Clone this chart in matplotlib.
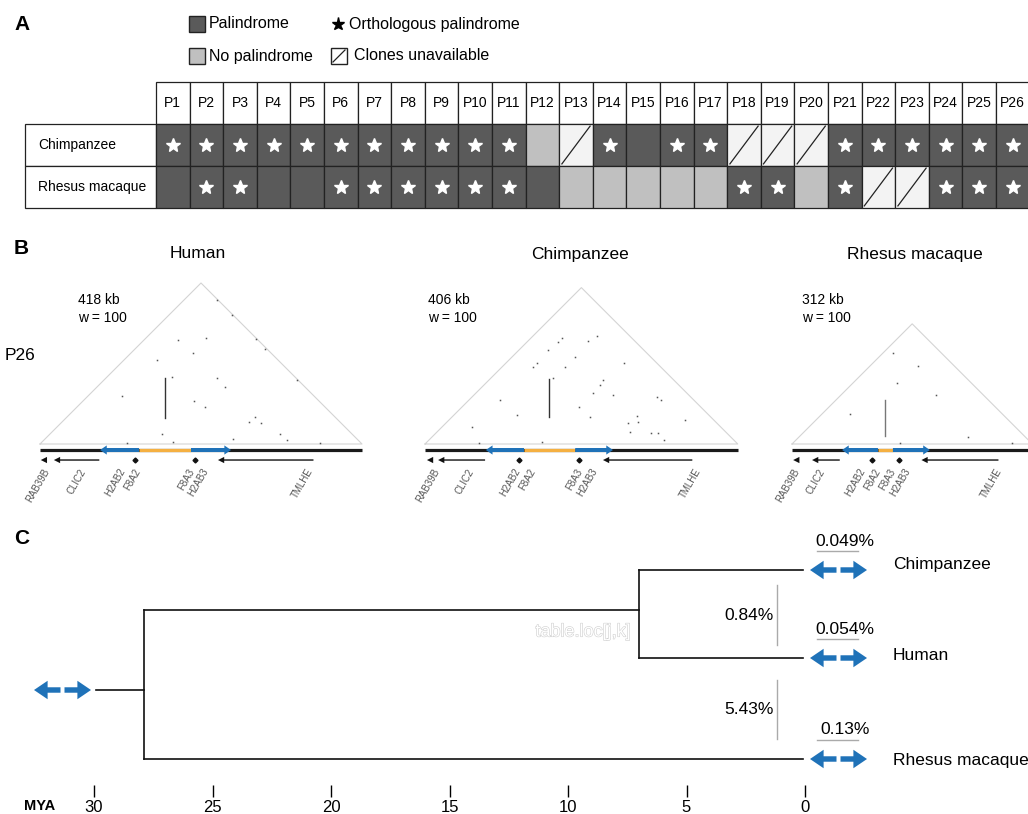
import matplotlib
matplotlib.use('Agg')
import matplotlib.pyplot as plt
from matplotlib.patches import Rectangle
import matplotlib.patheffects as pe

plt.rcParams['font.family'] = ['Liberation Sans', 'DejaVu Sans']

# ---------------- data ----------------
palindromes = ['P1', 'P2', 'P3', 'P4', 'P5', 'P6', 'P7', 'P8', 'P9', 'P10', 'P11', 'P12', 'P13',
               'P14', 'P15', 'P16', 'P17', 'P18', 'P19', 'P20', 'P21', 'P22', 'P23', 'P24', 'P25', 'P26']
table_species = ['Chimpanzee', 'Rhesus macaque']
# S = orthologous palindrome, D = palindrome, N = no palindrome, U = clones unavailable
chimp_status = list("SSSSSSSSSSSNUSDSSUUUSSSSSS")
rhesus_status = list("DSSDDSSSSSSDNNNNNSSNSUUSSS")

dot_species = ['Human', 'Chimpanzee', 'Rhesus macaque']
region_kb = [418, 406, 312]
window = [100, 100, 100]
left_arm_kb = [(128.5, 78), (128.5, 79), (111.6, 65)]       # (start, arrow tip)
spacer_kb = [(128.5, 196), (128.5, 195), (111.6, 131)]
right_arm_kb = [(196, 248), (195, 244), (131, 179)]          # (start, arrow tip)
arm_arm_kb = [(162, 34, 86), (161.6, 35, 84), (121, 10, 57)]  # (position, h0, h1)

gene_names = ['RAB39B', 'CLIC2', 'H2AB2', 'F8A2', 'F8A3', 'H2AB3', 'TMLHE']
gene_label_kb = [[10, 56, 108, 127, 197, 216, 351],
                 [16, 61, 121, 140, 201, 221, 355],
                 [6.5, 40, 92, 112, 131, 151, 270]]
gene_arrows_kb = [[(8, 1), (77, 18), (355, 231)],
                  [(9, 2.5), (78, 17), (347, 231)],
                  [(6.5, 1.5), (62, 26), (268, 168)]]
gene_marks_kb = [[123, 201], [122, 200], [104, 139]]

dots_human = [(179, 135), (216, 138), (230, 187), (249, 168), (281, 136), (292, 123), (152, 109),
              (171, 87), (199, 118), (230, 86), (240, 74), (334, 83), (106, 62), (200, 56),
              (214, 48), (279, 35), (271, 29), (287, 27), (158, 13), (173, 3), (251, 6),
              (312, 13), (321, 5), (364, 1), (113, 1)]
dots_chimp = [(178, 138), (173, 132), (212, 134), (223, 140), (160, 122), (145, 105), (140, 100),
              (182, 100), (195, 113), (258, 105), (166, 86), (231, 83), (227, 77), (218, 66),
              (244, 64), (301, 61), (307, 57), (97, 57), (200, 48), (119, 38), (214, 35),
              (275, 36), (264, 27), (277, 29), (338, 31), (61, 22), (266, 16), (294, 14),
              (302, 14), (310, 5), (152, 3), (70, 1)]
dots_rhesus = [(131, 118), (164, 101), (136, 79), (187, 64), (75, 39), (229, 9), (140, 1), (286, 1)]
dots_all = [dots_human, dots_chimp, dots_rhesus]

tree_species = ['Chimpanzee', 'Human', 'Rhesus macaque']
split_hc_mya = 7.0
split_root_mya = 27.9
root_stem_mya = 29.9
within_div = ['0.049%', '0.054%', '0.13%']
between_div = ['0.84%', '5.43%']
mya_ticks = [30, 25, 20, 15, 10, 5, 0]

# ---------------- style ----------------
W, H = 1028, 814
DARK, LIGHT, UNAV = '#5a5a5a', '#c0c0c0', '#f3f3f3'
BLUE, ORANGE = '#1f72b8', '#f5b041'

fig = plt.figure(figsize=(W / 100, H / 100), dpi=100)


def add_ax(x0, y0, x1, y1, z=1):
    a = fig.add_axes([x0 / W, 1 - y1 / H, (x1 - x0) / W, (y1 - y0) / H])
    a.set_zorder(z)
    a.patch.set_alpha(0)
    return a


lay = add_ax(0, 0, W, H, z=0)
lay.set_xlim(0, W)
lay.set_ylim(H, 0)
lay.axis('off')

# panel letters
for lab, y in [('A', 24), ('B', 248), ('C', 538)]:
    lay.text(14, y, lab, fontsize=15, fontweight='bold', ha='left', va='center')

# ---------------- Panel A legend ----------------
lay.add_patch(Rectangle((189, 16), 16, 16, fc=DARK, ec='#222', lw=1))
lay.add_patch(Rectangle((189, 48), 16, 16, fc=LIGHT, ec='#222', lw=1))
lay.add_patch(Rectangle((331, 48), 16, 16, fc='white', ec='#222', lw=1))
lay.plot([333, 345], [62, 50], color='#222', lw=0.9)
lay.plot([338], [24], marker='*', ms=9.5, color='black', ls='none')
lay.text(209, 24, 'Palindrome', fontsize=11.5, va='center')
lay.text(209, 56, 'No palindrome', fontsize=11.5, va='center')
lay.text(349, 24, 'Orthologous palindrome', fontsize=11.5, va='center')
lay.text(354, 56, 'Clones unavailable', fontsize=11.5, va='center')

# ---------------- Panel A table ----------------
cw = 33.6
ax_a = add_ax(25, 82, 25 + cw * (26 + 131 / cw), 208)
lab_w = 131 / cw
ax_a.set_xlim(-lab_w, 26)
ax_a.set_ylim(0, 3)
ax_a.axis('off')
EC, LW = '#222222', 0.9
for i, p in enumerate(palindromes):
    ax_a.add_patch(Rectangle((i, 2), 1, 1, fc='white', ec=EC, lw=LW, clip_on=False))
    ax_a.text(i + 0.5, 2.5, p, ha='center', va='center', fontsize=10)
for r, (name, stat) in enumerate(zip(table_species, [chimp_status, rhesus_status])):
    y = 1 - r
    ax_a.add_patch(Rectangle((-lab_w, y), lab_w, 1, fc='white', ec=EC, lw=LW, clip_on=False))
    ax_a.text(-lab_w + 0.4, y + 0.5, name, ha='left', va='center', fontsize=10)
    for i, s in enumerate(stat):
        fc = {'S': DARK, 'D': DARK, 'N': LIGHT, 'U': UNAV}[s]
        ax_a.add_patch(Rectangle((i, y), 1, 1, fc=fc, ec=EC, lw=LW, clip_on=False))
        if s == 'S':
            ax_a.plot(i + 0.5, y + 0.5, marker='*', ms=10, color='white', ls='none')
        if s == 'U':
            ax_a.plot([i + 0.08, i + 0.92], [y + 0.05, y + 0.95], color=EC, lw=0.9)

# ---------------- Panel B dot plots ----------------
s = 322 / 418.0
x0s = [40, 425, 792]
title_x = [198, 580, 915]
kb_x = [78, 428, 802]
for k in range(3):
    L = region_kb[k]
    x0 = x0s[k]
    ax = add_ax(x0, 444 - 280 * s, x0 + L * s, 444 + 85 * s, z=2)
    ax.set_xlim(0, L)
    ax.set_ylim(-85, 280)
    ax.axis('off')
    ax.plot([0, L / 2, L, 0], [0, L / 2, 0, 0], color='#d4d4d4', lw=0.8, clip_on=False)
    dx = [d[0] for d in dots_all[k]]
    dy = [d[1] for d in dots_all[k]]
    ax.plot(dx, dy, ls='none', marker='s', ms=1.1, color='#555555', mew=0)
    px, h0, h1 = arm_arm_kb[k]
    ax.plot([px, px], [h0, h1], color='#333333' if k < 2 else '#777777', lw=1.0)
    yt = -7.8
    ax.plot([0, L], [yt, yt], color='#1a1a1a', lw=2.3, solid_capstyle='butt', clip_on=False)
    ax.plot(spacer_kb[k], [yt, yt], color=ORANGE, lw=2.3, solid_capstyle='butt')
    for a0, a1 in [left_arm_kb[k], right_arm_kb[k]]:
        ax.annotate('', xy=(a1, yt), xytext=(a0, yt),
                    arrowprops=dict(arrowstyle='simple,head_length=0.4,head_width=0.55,tail_width=0.24',
                                    mutation_scale=12, fc=BLUE, ec='none', lw=0, shrinkA=0, shrinkB=0))
    yg = -20.8
    for g0, g1 in gene_arrows_kb[k]:
        ax.annotate('', xy=(g1, yg), xytext=(g0, yg),
                    arrowprops=dict(arrowstyle='simple,head_length=0.45,head_width=0.45,tail_width=0.1',
                                    mutation_scale=10, fc='#111111', ec='none', lw=0, shrinkA=0, shrinkB=0))
    ax.plot(gene_marks_kb[k], [yg, yg], ls='none', marker='D', ms=2.5, color='#111111')
    for gname, gx in zip(gene_names, gene_label_kb[k]):
        ax.text(gx, -33, gname, rotation=60, rotation_mode='anchor', ha='right', va='center',
                fontsize=7, color='#555555')
    lay.text(title_x[k], 254, dot_species[k], fontsize=12.5, ha='center', va='center')
    lay.text(kb_x[k], 300, f'{L} kb', fontsize=10, ha='left', va='center')
    lay.text(kb_x[k], 318, f'w = {window[k]}', fontsize=10, ha='left', va='center')
lay.text(5, 355, 'P26', fontsize=12.5, ha='left', va='center')

# ---------------- Panel C tree ----------------
ppm = (805 - 94) / 30.0
ax_t = add_ax(0, 520, W, 785, z=1)
ax_t.set_xlim(30 + 94 / ppm, -(W - 805) / ppm)
ax_t.set_ylim(785, 520)
for sp in ax_t.spines.values():
    sp.set_visible(False)
ax_t.set_yticks([])
ax_t.set_xticks(mya_ticks)
ax_t.set_xticklabels([str(t) for t in mya_ticks])
ax_t.tick_params(axis='x', direction='out', length=8.6, width=1.0, pad=2, labelsize=12)

tip_y = [570, 658, 759]
hc_y = (tip_y[0] + tip_y[1]) / 2 - 4
root_y = 690
tc = '#111111'
tlw = 1.2
tip_end = 0.1
ax_t.plot([split_hc_mya, tip_end], [tip_y[0]] * 2, color=tc, lw=tlw)
ax_t.plot([split_hc_mya, tip_end], [tip_y[1]] * 2, color=tc, lw=tlw)
ax_t.plot([split_hc_mya] * 2, [tip_y[0], tip_y[1]], color=tc, lw=tlw)
ax_t.plot([split_root_mya, split_hc_mya], [hc_y, hc_y], color=tc, lw=tlw)
ax_t.plot([split_root_mya, tip_end], [tip_y[2]] * 2, color=tc, lw=tlw)
ax_t.plot([split_root_mya] * 2, [hc_y, tip_y[2]], color=tc, lw=tlw)
ax_t.plot([root_stem_mya, split_root_mya], [root_y, root_y], color=tc, lw=tlw)


def dbl_arrow(xc, y):
    for sg in (-1, 1):
        lay.annotate('', xy=(xc + sg * 28.5, y), xytext=(xc + sg * 2, y),
                     arrowprops=dict(arrowstyle='simple,head_length=0.7,head_width=0.95,tail_width=0.28',
                                     mutation_scale=14, fc=BLUE, ec='none', lw=0, shrinkA=0, shrinkB=0))


for name, y, off in zip(tree_species, tip_y, [-6, -2, 2]):
    dbl_arrow(838.5, y)
    lay.text(893, y + off, name, fontsize=12.5, ha='left', va='center')
dbl_arrow(62.5, root_y)

for txt, y in zip(within_div, tip_y):
    lay.text(845, y - 29, txt, fontsize=12.5, ha='center', va='center')
    lay.plot([817, 858], [y - 19, y - 19], color='#aaaaaa', lw=1)
for txt, (ya, yb) in zip(between_div, [(585, 645), (680, 739)]):
    lay.plot([777, 777], [ya, yb], color='#aaaaaa', lw=1)
    lay.text(774, (ya + yb) / 2, txt, fontsize=12.5, ha='right', va='center')

lay.text(583, 632, 'table.loc[j,k]', fontsize=13, ha='center', va='center', color='white',
         path_effects=[pe.withStroke(linewidth=0.8, foreground='#cfcfcf')])
lay.text(40, 806, 'MYA', fontsize=10.5, fontweight='bold', ha='center', va='center')

fig.savefig('out.png', dpi=100)
